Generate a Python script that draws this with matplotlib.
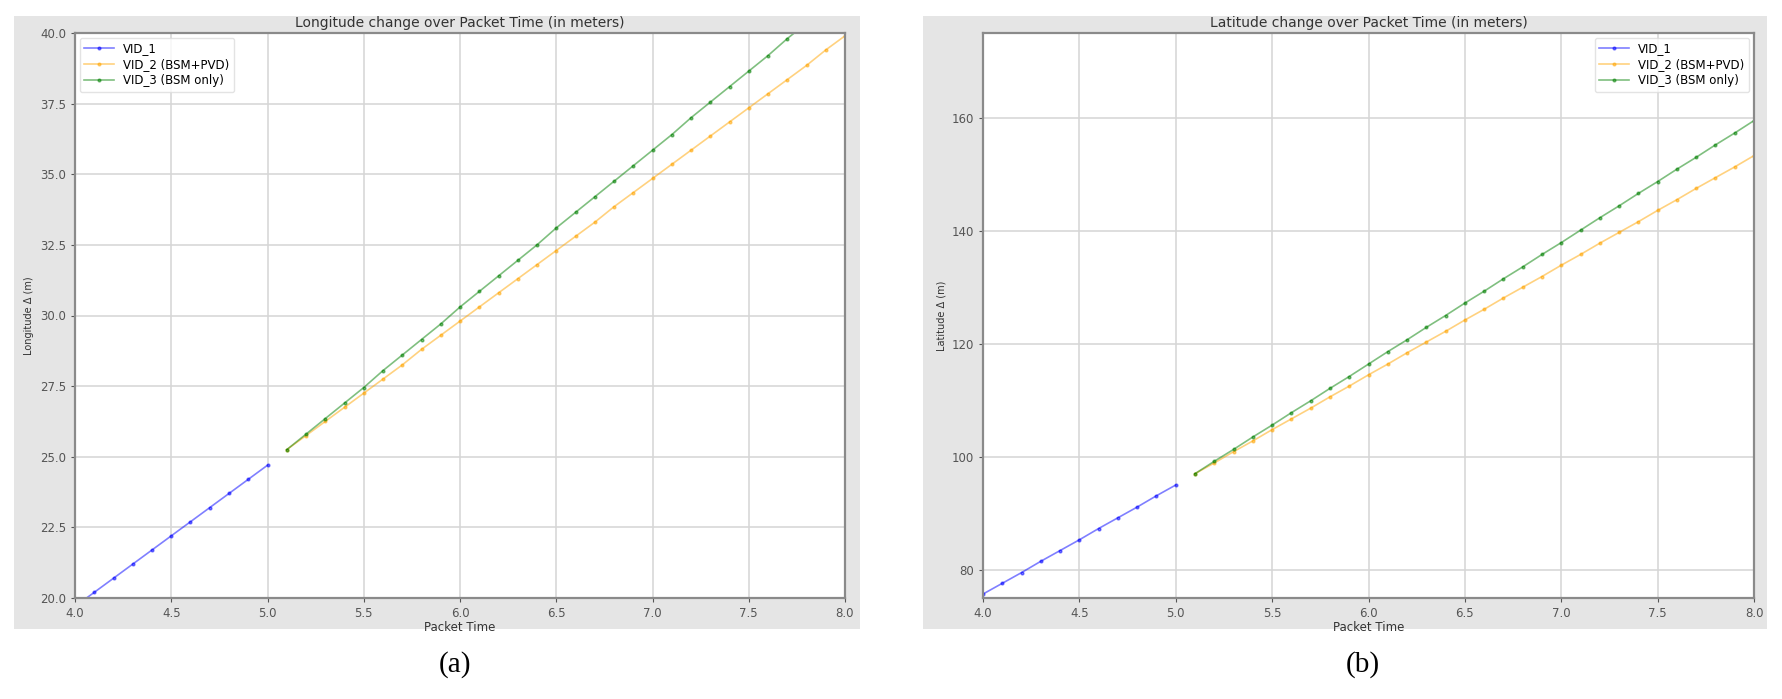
import matplotlib
matplotlib.use('Agg')
import matplotlib.pyplot as plt
from matplotlib.patches import Rectangle

# packet times
t_vid1 = [4.0, 4.1, 4.2, 4.3, 4.4, 4.5, 4.6, 4.7, 4.8, 4.9, 5.0]
t_vid23 = [5.1, 5.2, 5.3, 5.4, 5.5, 5.6, 5.7, 5.8, 5.9, 6.0,
           6.1, 6.2, 6.3, 6.4, 6.5, 6.6, 6.7, 6.8, 6.9, 7.0,
           7.1, 7.2, 7.3, 7.4, 7.5, 7.6, 7.7, 7.8, 7.9, 8.0]

# longitude delta (m)
lon_vid1 = [19.7, 20.2, 20.7, 21.2, 21.7, 22.2, 22.7, 23.2, 23.7, 24.2, 24.7]
lon_vid2 = [25.25, 25.75, 26.25, 26.75, 27.25, 27.75, 28.25, 28.8, 29.3, 29.8,
            30.3, 30.8, 31.3, 31.8, 32.3, 32.8, 33.3, 33.85, 34.35, 34.85,
            35.35, 35.85, 36.35, 36.85, 37.35, 37.85, 38.35, 38.85, 39.4, 39.9]
lon_vid3 = [25.25, 25.8, 26.35, 26.9, 27.45, 28.05, 28.6, 29.15, 29.7, 30.3,
            30.85, 31.4, 31.95, 32.5, 33.1, 33.65, 34.2, 34.75, 35.3, 35.85,
            36.4, 37.0, 37.55, 38.1, 38.65, 39.2, 39.8, 40.35, 40.9, 41.45]

# latitude delta (m)
lat_vid1 = [75.7, 77.6, 79.5, 81.5, 83.4, 85.3, 87.3, 89.2, 91.1, 93.1, 95.0]
lat_vid2 = [97.0, 98.9, 100.9, 102.8, 104.8, 106.7, 108.6, 110.6, 112.5, 114.5,
            116.4, 118.4, 120.3, 122.2, 124.2, 126.1, 128.1, 130.0, 131.9, 133.9,
            135.8, 137.8, 139.7, 141.6, 143.6, 145.5, 147.5, 149.4, 151.3, 153.3]
lat_vid3 = [97.0, 99.2, 101.3, 103.5, 105.6, 107.8, 109.9, 112.1, 114.2, 116.4,
            118.6, 120.7, 122.9, 125.0, 127.2, 129.3, 131.5, 133.6, 135.8, 137.9,
            140.1, 142.3, 144.4, 146.6, 148.7, 150.9, 153.0, 155.2, 157.3, 159.5]

labels = ["VID_1", "VID_2 (BSM+PVD)", "VID_3 (BSM only)"]
colors = ["blue", "orange", "green"]

W, H = 1782, 699
fig = plt.figure(figsize=(W / 100, H / 100), dpi=100)
fig.patch.set_facecolor('white')

# grey screenshot panels behind each plot
for x0, x1 in [(14, 860), (923, 1767)]:
    fig.patches.append(Rectangle((x0 / W, 1 - 629 / H), (x1 - x0) / W, (629 - 16) / H,
                                 transform=fig.transFigure, facecolor='#e5e5e5',
                                 edgecolor='none', zorder=-10))

def make_panel(left, right, ys, title, ylabel, ylim, yticks, yfmt, legend_loc, tag):
    ax = fig.add_axes([left / W, 1 - 598 / H, (right - left) / W, (598 - 33) / H])
    ax.set_facecolor('white')
    for i, (t, y) in enumerate(zip([t_vid1, t_vid23, t_vid23], ys)):
        ax.plot(t, y, color=colors[i], marker='.', markersize=4, linewidth=1.2,
                alpha=0.5, label=labels[i])
    ax.set_xlim(4.0, 8.0)
    ax.set_ylim(*ylim)
    ax.set_xticks([4.0, 4.5, 5.0, 5.5, 6.0, 6.5, 7.0, 7.5, 8.0])
    ax.set_yticks(yticks)
    ax.set_yticklabels([yfmt.format(v) for v in yticks])
    ax.grid(True, color='#d5d5d5', linewidth=1.1)
    ax.set_axisbelow(True)
    for s in ax.spines.values():
        s.set_color('#8a8a8a')
        s.set_linewidth(1.6)
    ax.tick_params(labelsize=8.5, colors='#555555', length=3)
    ax.set_title(title, fontsize=10, color='#333333', pad=4)
    ax.set_xlabel("Packet Time", fontsize=8.5, color='#333333', labelpad=1)
    ax.set_ylabel(ylabel, fontsize=7, color='#333333', labelpad=4)
    ax.legend(loc=legend_loc, fontsize=8.5, frameon=True, framealpha=0.8,
              edgecolor='#dddddd', handlelength=2.5, labelspacing=0.25,
              borderaxespad=0.4)
    fig.text((left + right) / 2 / W - 0.003, 1 - 665 / H, tag, ha='center', va='center',
             fontsize=21, family='Liberation Serif')
    return ax

make_panel(75, 845, [lon_vid1, lon_vid2, lon_vid3],
           "Longitude change over Packet Time (in meters)", "Longitude Δ (m)",
           (20, 40), [20, 22.5, 25, 27.5, 30, 32.5, 35, 37.5, 40], "{:.1f}",
           'upper left', "(a)")
make_panel(983, 1754, [lat_vid1, lat_vid2, lat_vid3],
           "Latitude change over Packet Time (in meters)", "Latitude Δ (m)",
           (75, 175), [80, 100, 120, 140, 160], "{:.0f}",
           'upper right', "(b)")

fig.savefig('out.png', dpi=100)
